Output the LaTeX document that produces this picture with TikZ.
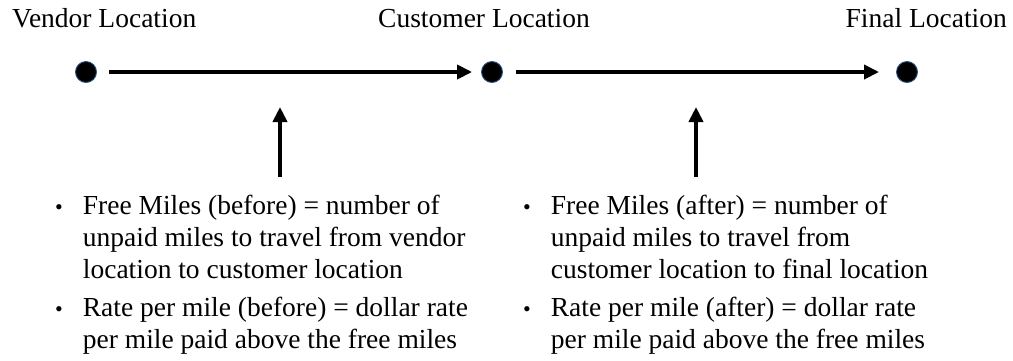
\documentclass[tikz,border=0pt]{standalone}
\usepackage{fontspec}
\setmainfont{Liberation Serif}
\usepackage{xcolor}
\usetikzlibrary{arrows.meta, positioning}
\definecolor{dotrim}{RGB}{45,85,135}
\newcommand{\pt}{{\fontsize{22}{22}\selectfont\textbullet}}

\begin{document}
\begin{tikzpicture}[>=Stealth, x=1pt, y=1pt,
  dot/.style={circle, fill=black, draw=dotrim, line width=0.9pt,
    inner sep=0pt, minimum size=21pt},
  flow/.style={-{Triangle[length=15pt,width=14pt]}, line width=4.5pt},
  txt/.style={font=\fontsize{27.5}{32}\selectfont, inner sep=0pt}]
  \useasboundingbox (0,0) rectangle (1013,-360);
  % locations
  \node[dot] (vendor) at (86,-72) {};
  \node[dot] (customer) at (492,-72) {};
  \node[dot] (final) at (907,-72) {};
  \node[txt, anchor=base west] (vendorlbl) at (12,-27) {Vendor Location};
  \node[txt, anchor=base west] (customerlbl) at (378,-27) {Customer Location};
  \node[txt, anchor=base east] (finallbl) at (1007,-27) {Final Location};
  \draw[flow, shorten <=12pt, shorten >=9pt] (vendor) -- (customer);
  \draw[flow, shorten <=13pt, shorten >=17pt] (customer) -- (final);
  % pointers to the legs
  \foreach \x/\nm in {280/before,696/after} {
    \coordinate (\nm foot) at (\x,-177);
    \coordinate (\nm tip) at (\x,-107);
    \draw[flow] (\nm foot) -- (\nm tip);
  }
  % explanations
  \node[txt, anchor=base west] (beforetxt) at (55,-214)
    {\begin{tabular}[t]{@{}l@{\hspace{20pt}}l@{}}
      \pt & Free Miles (before) = number of\\
      & unpaid miles to travel from vendor\\
      & location to customer location\\[6pt]
      \pt & Rate per mile (before) = dollar rate\\
      & per mile paid above the free miles
    \end{tabular}};
  \node[txt, anchor=base west] (aftertxt) at (523,-214)
    {\begin{tabular}[t]{@{}l@{\hspace{20pt}}l@{}}
      \pt & Free Miles (after) = number of\\
      & unpaid miles to travel from\\
      & customer location to final location\\[6pt]
      \pt & Rate per mile (after) = dollar rate\\
      & per mile paid above the free miles
    \end{tabular}};
\end{tikzpicture}
\end{document}
